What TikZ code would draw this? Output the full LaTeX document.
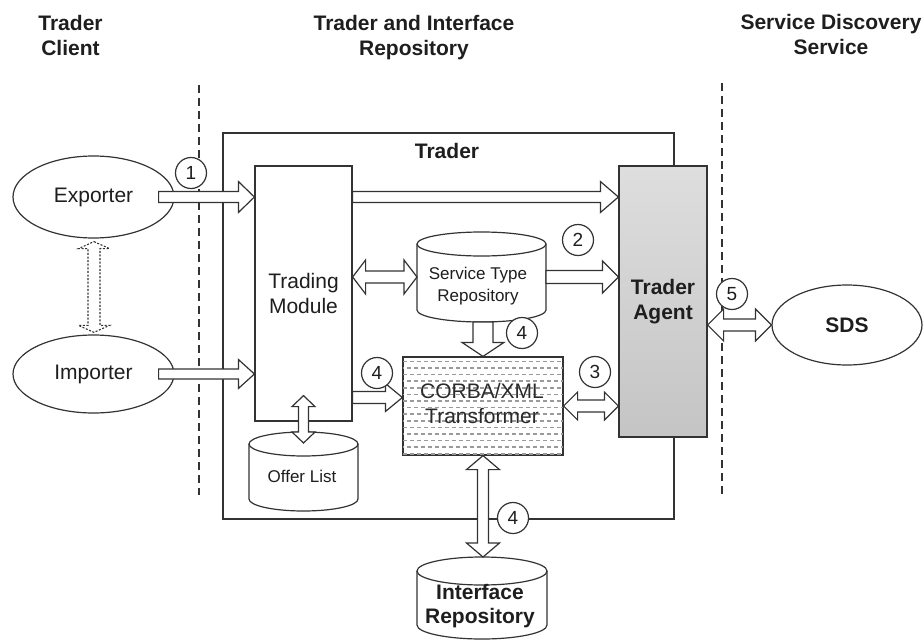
\documentclass[tikz,border=0pt]{standalone}
\usepackage{fontspec}
\setmainfont{Liberation Sans}
\usetikzlibrary{calc,shapes.geometric}

\definecolor{ink}{HTML}{333333}
\definecolor{txt}{HTML}{1E1E1E}
\definecolor{hatch}{HTML}{9A9A9A}

\newcommand\fsz[2]{\fontsize{#1}{#2}\selectfont}

% single-headed block arrow: [options]{from}{to}{shaft half width}{head half width}{head length}
\newcommand\blockone[6][]{%
  \draw[blockarr,#1] let \p1=(#2), \p2=(#3),
      \n1={veclen(\x2-\x1,\y2-\y1)}, \n2={(\x2-\x1)/\n1}, \n3={(\y2-\y1)/\n1} in
    ({\x1-(\n3)*#4},{\y1+(\n2)*#4})
    -- ({\x2-(\n2)*#6-(\n3)*#4},{\y2-(\n3)*#6+(\n2)*#4})
    -- ({\x2-(\n2)*#6-(\n3)*#5},{\y2-(\n3)*#6+(\n2)*#5})
    -- (\p2)
    -- ({\x2-(\n2)*#6+(\n3)*#5},{\y2-(\n3)*#6-(\n2)*#5})
    -- ({\x2-(\n2)*#6+(\n3)*#4},{\y2-(\n3)*#6-(\n2)*#4})
    -- ({\x1+(\n3)*#4},{\y1-(\n2)*#4}) -- cycle;}

% double-headed block arrow, same arguments
\newcommand\blocktwo[6][]{%
  \draw[blockarr,#1] let \p1=(#2), \p2=(#3),
      \n1={veclen(\x2-\x1,\y2-\y1)}, \n2={(\x2-\x1)/\n1}, \n3={(\y2-\y1)/\n1} in
    (\p1)
    -- ({\x1+(\n2)*#6-(\n3)*#5},{\y1+(\n3)*#6+(\n2)*#5})
    -- ({\x1+(\n2)*#6-(\n3)*#4},{\y1+(\n3)*#6+(\n2)*#4})
    -- ({\x2-(\n2)*#6-(\n3)*#4},{\y2-(\n3)*#6+(\n2)*#4})
    -- ({\x2-(\n2)*#6-(\n3)*#5},{\y2-(\n3)*#6+(\n2)*#5})
    -- (\p2)
    -- ({\x2-(\n2)*#6+(\n3)*#5},{\y2-(\n3)*#6-(\n2)*#5})
    -- ({\x2-(\n2)*#6+(\n3)*#4},{\y2-(\n3)*#6-(\n2)*#4})
    -- ({\x1+(\n2)*#6+(\n3)*#4},{\y1+(\n3)*#6-(\n2)*#4})
    -- ({\x1+(\n2)*#6+(\n3)*#5},{\y1+(\n3)*#6-(\n2)*#5})
    -- cycle;}

% database cylinder: {name}{x}{y}{width}{height}{cap half height}
\newcommand\drawcyl[6]{%
  \node[minimum width=#4pt, minimum height=#5pt, inner sep=0pt, outer sep=0pt] (#1) at (#2,#3) {};
  \filldraw[cylline] ([yshift=-#6]#1.north west) -- ([yshift=#6]#1.south west)
    arc[start angle=180, end angle=360, x radius={#4*0.5pt}, y radius=#6]
    -- ([yshift=-#6]#1.north east)
    arc[start angle=0, end angle=180, x radius={#4*0.5pt}, y radius=#6] -- cycle;
  \draw[cylline, fill=none] ([yshift=-#6]#1.north west)
    arc[start angle=180, end angle=360, x radius={#4*0.5pt}, y radius=#6];}

\begin{document}
\begin{tikzpicture}[x=1pt, y=-1pt, line width=1.2pt,
  every node/.style={text=txt},
  hdr/.style={font=\fsz{21}{25}\bfseries, inner sep=0pt, anchor=base},
  lbl/.style={font=\fsz{21}{24.5}, align=center, inner sep=0pt},
  lblb/.style={font=\fsz{21}{24.5}\bfseries, align=center, inner sep=0pt},
  small/.style={font=\fsz{17}{22}, align=center, inner sep=0pt},
  num/.style={circle, draw=ink, fill=white, minimum size=31pt, inner sep=0pt, font=\fsz{19}{19}},
  oval/.style={ellipse, draw=ink, fill=white, inner sep=0pt},
  boxed/.style={draw=ink, fill=white, inner sep=0pt},
  agentbox/.style={draw=ink, top color=gray!26, bottom color=gray!46, inner sep=0pt},
  blockarr/.style={draw=ink, fill=white, line join=miter},
  dotarr/.style={line width=1.1pt, dash pattern=on 2pt off 1.6pt},
  sepline/.style={draw=ink, dash pattern=on 8pt off 5pt},
  cylline/.style={draw=ink, fill=white},
  patline/.style={draw=hatch, line width=1.5pt, dash pattern=on 4pt off 3pt}]

\useasboundingbox (0,0) rectangle (924,640);

% column headings
\node[hdr] (hc1) at (70.5,30) {Trader};
\node[hdr] (hc2) at (70.5,55) {Client};
\node[hdr] (hr1) at (414,30) {Trader and Interface};
\node[hdr] (hr2) at (414,55) {Repository};
\node[hdr] (hs1) at (831,29) {Service Discovery};
\node[hdr] (hs2) at (831,54) {Service};

% domain boundaries
\coordinate (lt) at (199,85);  \coordinate (lb) at (199,495);
\coordinate (rt) at (722,83);  \coordinate (rb) at (722,495);
\draw[sepline] (lt) -- (lb);
\draw[sepline] (rt) -- (rb);

% trader frame
\node[draw=ink, minimum width=451pt, minimum height=386pt, inner sep=0pt] (trader) at (448.5,326) {};
\node[lblb] (traderlbl) at (447,151) {Trader};

% inner components
\node[boxed, lbl, minimum width=97pt, minimum height=255pt] (tm) at (303.5,293.5) {Trading\\Module};
\node[agentbox, lblb, minimum width=88pt, minimum height=271pt] (ta) at (663,301.5) {Trader\\Agent};

\node[boxed, minimum width=160pt, minimum height=98pt] (corba) at (483,406) {};
\begin{scope}
  \clip (corba.south west) rectangle (corba.north east);
  \foreach \i [evaluate=\i as \ph using {mod(\i,2)*3.5}] in {0,...,14}
    \draw[patline, dash phase=\ph pt] ($(corba.north west)+(-6,5+6.6*\i)$) -- ($(corba.north east)+(6,5+6.6*\i)$);
\end{scope}
\draw[draw=ink] (corba.south west) rectangle (corba.north east);
\node[lbl, text=ink!85!black] (corbatxt) at (482,403.5) {CORBA/XML\\Transformer};

\drawcyl{str}{481.5}{277}{129}{90}{12pt}
\node[small] (strtxt) at (478,286.5) {Service Type\\Repository};
\drawcyl{ol}{303.5}{471.5}{109}{79}{12pt}
\node[small] (oltxt) at (302,476) {Offer List};
\drawcyl{ir}{482}{598}{130}{82}{14pt}
\node[lblb] (irtxt) at (480,606) {Interface\\Repository};

\node[oval, lbl, minimum width=161pt, minimum height=82pt] (exp) at (93.5,197) {Exporter};
\node[oval, lbl, minimum width=161pt, minimum height=78pt] (imp) at (93.5,374) {Importer};
\node[oval, lblb, minimum width=150pt, minimum height=80pt] (sds) at (847,325) {SDS};

% helper points for the flows
\coordinate (tmc) at ($(corba.west)+(0,-8.5)$);
\coordinate (olt) at ($(ol.north |- tm.south)+(0,-26)$);
\coordinate (olb) at ($(ol.north)+(0,11)$);
\coordinate (ea) at ($(exp.south)+(0.5,3)$);
\coordinate (ia) at ($(imp.north)+(0.5,-2)$);

% flows
\blockone{[xshift=-16pt]exp.east}{exp.east -| tm.west}{5.5pt}{15.5pt}{16pt}
\blockone{[xshift=-16pt]imp.east}{imp.east -| tm.west}{5pt}{14.5pt}{16pt}
\blockone{exp.east -| tm.east}{exp.east -| ta.west}{5.5pt}{15.5pt}{18pt}
\blocktwo{str.west -| tm.east}{str.west}{6pt}{17pt}{13pt}
\blockone{str.east}{str.east -| ta.west}{6.5pt}{16pt}{16pt}
\blockone{corba.north |- str.south}{corba.north}{10pt}{21pt}{14pt}
\blockone{tmc -| tm.east}{tmc}{6pt}{14pt}{17pt}
\blocktwo{corba.east}{corba.east -| ta.west}{6pt}{14pt}{14pt}
\blocktwo{corba.south}{corba.south |- ir.north}{5.5pt}{16.5pt}{14pt}
\blocktwo{olt}{olb}{5pt}{11.5pt}{11pt}
\blocktwo{ta.east |- sds.west}{sds.west}{6pt}{16pt}{16pt}
\blocktwo[dotarr]{ea}{ia}{6pt}{15.5pt}{7pt}

% step numbers
\node[num] (n1) at (191,173) {1};
\node[num] (n2) at (578,240) {2};
\node[num] (n3) at (595,372) {3};
\node[num] (n4a) at (522,333) {4};
\node[num] (n4b) at (377,373) {4};
\node[num] (n4c) at (513,518) {4};
\node[num] (n5) at (732,294) {5};
\end{tikzpicture}
\end{document}
